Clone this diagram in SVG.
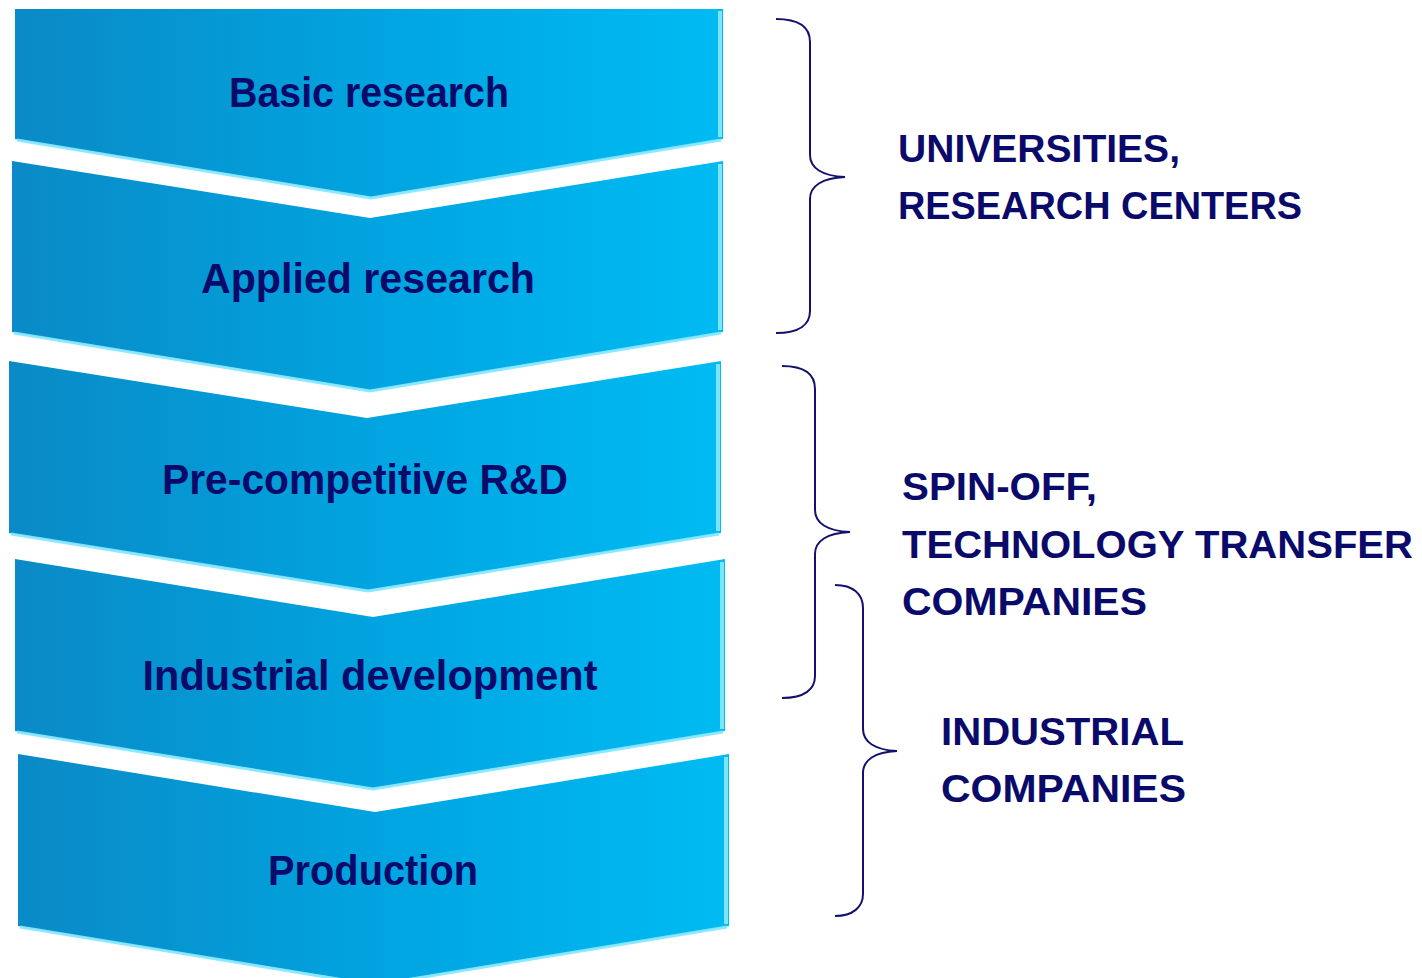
<svg xmlns="http://www.w3.org/2000/svg" width="1422" height="978" viewBox="0 0 1422 978">
<defs>
<linearGradient id="g" x1="0" y1="0" x2="1" y2="0">
<stop offset="0" stop-color="#0a8ac6"/>
<stop offset="0.55" stop-color="#00a6e2"/>
<stop offset="1" stop-color="#00bbf2"/>
</linearGradient>
<style>
.chev{fill:url(#g);stroke:none}
.hl{fill:none;stroke:#7fe6ff;stroke-width:3;stroke-linejoin:miter;opacity:0.9}
.hr{fill:none;stroke:#9af0ff;stroke-width:4;opacity:0.8}
.lbl{font-family:"Liberation Sans",Arial,sans-serif;font-weight:bold;font-size:42px;fill:#0a0a6b;text-anchor:middle}
.side{font-family:"Liberation Sans",Arial,sans-serif;font-weight:bold;font-size:39px;fill:#0a0a6b}
.br{fill:none;stroke:#12126e;stroke-width:2}
</style>
</defs>
<g id="chevron-basic">
<polygon class="chev" points="15,9 723,9 723,139 371,197 15,139"/>
<polyline class="hl" points="17,140 371,198 721,140"/>
<line class="hr" x1="720" y1="11" x2="720" y2="137"/>
<text class="lbl" x="369" y="107" textLength="280" lengthAdjust="spacingAndGlyphs">Basic research</text>
</g>
<g id="chevron-applied">
<polygon class="chev" points="12,161 370,218 723,161 723,332 370,390 12,332"/>
<polyline class="hl" points="14,333 370,391 721,333"/>
<line class="hr" x1="720" y1="164" x2="720" y2="330"/>
<text class="lbl" x="368" y="293" textLength="334" lengthAdjust="spacingAndGlyphs">Applied research</text>
</g>
<g id="chevron-precompetitive">
<polygon class="chev" points="9,361 367,418 721,361 721,533 368,590 9,533"/>
<polyline class="hl" points="11,534 368,591 719,534"/>
<line class="hr" x1="718" y1="364" x2="718" y2="531"/>
<text class="lbl" x="365" y="494" textLength="406" lengthAdjust="spacingAndGlyphs">Pre-competitive R&amp;D</text>
</g>
<g id="chevron-industrial">
<polygon class="chev" points="15,559 373,617 725,559 725,731 373,788 15,731"/>
<polyline class="hl" points="17,732 373,789 723,732"/>
<line class="hr" x1="722" y1="562" x2="722" y2="729"/>
<text class="lbl" x="370" y="690" textLength="455" lengthAdjust="spacingAndGlyphs">Industrial development</text>
</g>
<g id="chevron-production">
<polygon class="chev" points="18,754 375,812 729,754 729,926 375,984 18,926"/>
<polyline class="hl" points="20,927 375,985 727,927"/>
<line class="hr" x1="726" y1="757" x2="726" y2="924"/>
<text class="lbl" x="373" y="885" textLength="210" lengthAdjust="spacingAndGlyphs">Production</text>
</g>
<g id="connectors">
<path class="br" d="M776,19 C800,19 810,28 810,42 L810,155 C810,168 822,176 845,177 C822,178 810,186 810,199 L810,311 C810,324 800,333 776,333"/>
<path class="br" d="M782,366 C805,366 815,375 815,389 L815,510 C815,523 827,531 850,532 C827,533 815,541 815,554 L815,676 C815,689 805,698 782,698"/>
<path class="br" d="M835,585 C853,585 863,594 863,608 L863,729 C863,742 875,750 897,751 C875,752 863,760 863,773 L863,894 C863,907 853,916 835,916"/>
</g>
<g id="label-universities">
<text class="side" x="898" y="162" textLength="282" lengthAdjust="spacingAndGlyphs">UNIVERSITIES,</text>
<text class="side" x="898" y="219" textLength="404" lengthAdjust="spacingAndGlyphs">RESEARCH CENTERS</text>
</g>
<g id="label-spinoff">
<text class="side" x="902" y="500" textLength="195" lengthAdjust="spacingAndGlyphs">SPIN-OFF,</text>
<text class="side" x="902" y="558" textLength="511" lengthAdjust="spacingAndGlyphs">TECHNOLOGY TRANSFER</text>
<text class="side" x="902" y="615" textLength="245" lengthAdjust="spacingAndGlyphs">COMPANIES</text>
</g>
<g id="label-industrial">
<text class="side" x="941" y="745" textLength="243" lengthAdjust="spacingAndGlyphs">INDUSTRIAL</text>
<text class="side" x="941" y="802" textLength="245" lengthAdjust="spacingAndGlyphs">COMPANIES</text>
</g>
</svg>
